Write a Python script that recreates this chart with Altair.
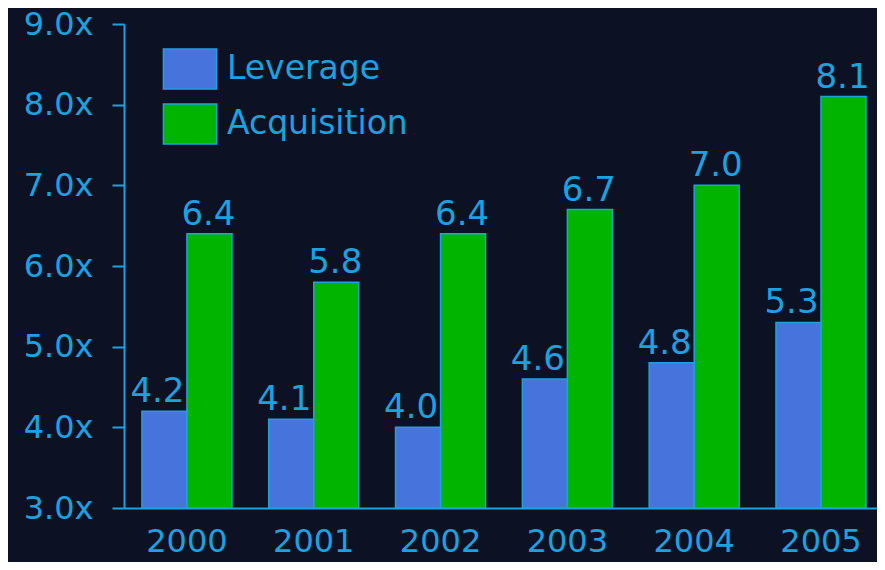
import altair as alt
import pandas as pd

years = ["2000", "2001", "2002", "2003", "2004", "2005"]
leverage = [4.2, 4.1, 4.0, 4.6, 4.8, 5.3]
acquisition = [6.4, 5.8, 6.4, 6.7, 7.0, 8.1]
series = ["Leverage", "Acquisition"]
title_text = "(of EBITDA)"

rows = []
for i, y in enumerate(years):
    rows.append({"year": y, "series": series[0], "value": leverage[i]})
    rows.append({"year": y, "series": series[1], "value": acquisition[i]})
df = pd.DataFrame(rows)

LB = "#1aa3e0"
BG = "#0c1223"

rect_path = "M-1.33,-1H1.33V1H-1.33Z"

x_enc = alt.X(
    "year:N",
    sort=years,
    scale=alt.Scale(paddingInner=0.29, paddingOuter=0.114, align=0.62),
    axis=alt.Axis(
        title=None, labelAngle=0, ticks=False, labelFontSize=32,
        labelColor=LB, labelPadding=18, domainColor=LB, domainWidth=2,
        labelFont="DejaVu Sans",
    ),
)
y_enc = alt.Y(
    "value:Q",
    scale=alt.Scale(domain=[3, 9], nice=False, zero=False),
    axis=alt.Axis(
        title=None, values=[3, 4, 5, 6, 7, 8, 9], grid=False,
        labelExpr="format(datum.value, '.1f') + 'x'",
        labelFontSize=32, labelColor=LB, labelFont="DejaVu Sans",
        tickColor=LB, tickSize=12, tickWidth=2, domainColor=LB, domainWidth=2,
        labelPadding=19,
    ),
)
xoff = alt.XOffset("series:N", sort=series)

bars = alt.Chart(df).mark_bar(stroke=LB, strokeWidth=1.5).encode(
    x=x_enc,
    xOffset=xoff,
    y=y_enc,
    y2=alt.datum(3),
    color=alt.Color(
        "series:N",
        sort=series,
        scale=alt.Scale(domain=series, range=["#4673dc", "#00b400"]),
        legend=alt.Legend(
            title=None, orient="none", legendX=45, legendY=24,
            symbolType=rect_path, symbolSize=1600, symbolStrokeColor=LB,
            symbolStrokeWidth=1.5, symbolOpacity=1,
            labelFontSize=33, labelColor=LB, labelFont="DejaVu Sans",
            rowPadding=9, labelOffset=16, labelLimit=400,
        ),
    ),
)


def value_labels(name, shift):
    return alt.Chart(df).transform_filter(
        alt.datum.series == name
    ).mark_text(
        baseline="alphabetic", dy=-9, dx=shift, fontSize=34, color=LB,
        font="DejaVu Sans",
    ).encode(
        x=alt.X("year:N", sort=years),
        xOffset=xoff,
        y="value:Q",
        text=alt.Text("value:Q", format=".1f"),
    )


chart = (
    alt.layer(bars, value_labels(series[0], -7), value_labels(series[1], -1))
    .properties(
        width=753,
        height=484,
        autosize=alt.AutoSizeParams(type="none"),
        padding={"left": 116, "top": 16, "right": 0, "bottom": 54},
        background=BG,
        title=alt.Title(
            title_text, fontSize=40, font="DejaVu Sans", fontWeight="bold",
            color="#f5c400", offset=17, anchor="middle", dx=-15,
        ),
    )
    .configure_view(stroke=None)
)

chart.save("out.html", embed_options={"renderer": "svg", "actions": False})
